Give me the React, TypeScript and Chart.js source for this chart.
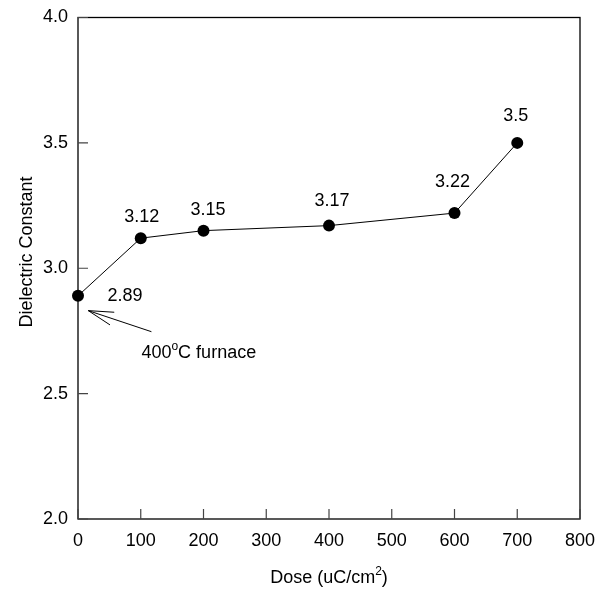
import React, { useEffect, useRef } from 'react';
import { Chart, registerables } from 'chart.js';

Chart.register(...registerables);

// ---- data ----
const doses = [0, 100, 200, 400, 600, 700];
const dielectric = [2.89, 3.12, 3.15, 3.17, 3.22, 3.5];
const pointLabels = ['2.89', '3.12', '3.15', '3.17', '3.22', '3.5'];
const xTicks = [0, 100, 200, 300, 400, 500, 600, 700, 800];
const yTicks = [2.0, 2.5, 3.0, 3.5, 4.0];
const xTitle = 'Dose (uC/cm';
const xTitleSup = '2';
const yTitle = 'Dielectric Constant';
const noteMain = '400';
const noteSup = 'o';
const noteRest = 'C furnace';
// arrow in data units: tail -> head
const arrowTail = { x: 117, y: 2.747 };
const arrowHead = { x: 16.4, y: 2.831 };

// ---- style ----
const FONT = '"Liberation Sans", Arial, Helvetica, sans-serif';
const labelOffsets: [number, number][] = [
  [47, 0],
  [1, -21.5],
  [4.5, -21],
  [3, -25],
  [-2, -31.5],
  [-1.5, -26.4],
];

const decorPlugin = {
  id: 'decor',
  afterDraw(chart: any) {
    const ctx = chart.ctx as CanvasRenderingContext2D;
    const { left, right, top, bottom } = chart.chartArea;
    const xs = chart.scales.x;
    const ys = chart.scales.y;
    ctx.save();
    // box
    ctx.strokeStyle = '#000';
    ctx.lineWidth = 1.3;
    ctx.strokeRect(left, top, right - left, bottom - top);
    // inner ticks
    ctx.strokeStyle = '#444';
    ctx.lineWidth = 1.2;
    ctx.beginPath();
    yTicks.forEach((v) => {
      const y = ys.getPixelForValue(v);
      ctx.moveTo(left, y);
      ctx.lineTo(left + 10, y);
    });
    xTicks.forEach((v) => {
      const x = xs.getPixelForValue(v);
      ctx.moveTo(x, bottom);
      ctx.lineTo(x, bottom - 10);
    });
    ctx.stroke();

    // point labels
    ctx.fillStyle = '#000';
    ctx.font = `18px ${FONT}`;
    ctx.textAlign = 'center';
    ctx.textBaseline = 'middle';
    doses.forEach((d, i) => {
      const x = xs.getPixelForValue(d) + labelOffsets[i][0];
      const y = ys.getPixelForValue(dielectric[i]) + labelOffsets[i][1];
      ctx.fillText(pointLabels[i], x, y);
    });

    // arrow
    const tx = xs.getPixelForValue(arrowTail.x);
    const ty = ys.getPixelForValue(arrowTail.y);
    const hx = xs.getPixelForValue(arrowHead.x);
    const hy = ys.getPixelForValue(arrowHead.y);
    const ang = Math.atan2(ty - hy, tx - hx);
    const len = 26;
    const spread = 0.26;
    ctx.strokeStyle = '#000';
    ctx.lineWidth = 1;
    ctx.beginPath();
    ctx.moveTo(tx, ty);
    ctx.lineTo(hx, hy);
    ctx.moveTo(hx + len * Math.cos(ang - spread), hy + len * Math.sin(ang - spread));
    ctx.lineTo(hx, hy);
    ctx.lineTo(hx + len * Math.cos(ang + spread), hy + len * Math.sin(ang + spread));
    ctx.stroke();

    // note text
    const nx = tx - 10;
    const ny = ty + 26;
    ctx.textAlign = 'left';
    ctx.textBaseline = 'alphabetic';
    ctx.font = `18px ${FONT}`;
    ctx.fillText(noteMain, nx, ny);
    let cx = nx + ctx.measureText(noteMain).width;
    ctx.font = `12px ${FONT}`;
    ctx.fillText(noteSup, cx, ny - 8);
    cx += ctx.measureText(noteSup).width;
    ctx.font = `18px ${FONT}`;
    ctx.fillText(noteRest, cx, ny);

    // x title
    ctx.font = `18px ${FONT}`;
    const w1 = ctx.measureText(xTitle).width;
    ctx.font = `12px ${FONT}`;
    const w2 = ctx.measureText(xTitleSup).width;
    ctx.font = `18px ${FONT}`;
    const w3 = ctx.measureText(')').width;
    const total = w1 + w2 + w3;
    const cxm = (left + right) / 2;
    let sx = cxm - total / 2;
    const by = 583;
    ctx.fillText(xTitle, sx, by);
    sx += w1;
    ctx.font = `12px ${FONT}`;
    ctx.fillText(xTitleSup, sx, by - 8);
    sx += w2;
    ctx.font = `18px ${FONT}`;
    ctx.fillText(')', sx, by);

    // y title
    ctx.save();
    ctx.translate(32, 252);
    ctx.rotate(-Math.PI / 2);
    ctx.textAlign = 'center';
    ctx.textBaseline = 'alphabetic';
    ctx.fillText(yTitle, 0, 0);
    ctx.restore();

    ctx.restore();
  },
};

export default function App() {
  const ref = useRef<HTMLCanvasElement | null>(null);
  useEffect(() => {
    document.body.style.margin = '0';
    const canvas = ref.current;
    if (!canvas) return;
    const chart = new Chart(canvas, {
      type: 'line',
      data: {
        datasets: [
          {
            data: doses.map((d, i) => ({ x: d, y: dielectric[i] })),
            borderColor: '#000',
            borderWidth: 1,
            pointRadius: 6,
            pointBackgroundColor: '#000',
            pointBorderColor: '#000',
            pointBorderWidth: 0,
            tension: 0,
            clip: false as any,
          },
        ],
      },
      options: {
        animation: false,
        responsive: false,
        maintainAspectRatio: false,
        devicePixelRatio: 1,
        layout: { padding: { top: 17.5, right: 18, left: 0, bottom: 0 } },
        plugins: { legend: { display: false }, tooltip: { enabled: false } },
        scales: {
          x: {
            type: 'linear',
            min: 0,
            max: 800,
            afterBuildTicks: (s: any) => {
              s.ticks = xTicks.map((v) => ({ value: v }));
            },
            afterFit: (s: any) => {
              s.height = 70;
              s.paddingLeft = 0;
              s.paddingRight = 0;
            },
            grid: { display: false, drawTicks: false },
            border: { display: false },
            ticks: {
              color: '#000',
              font: { family: FONT, size: 18 },
              padding: 11,
              maxRotation: 0,
              autoSkip: false,
            },
          },
          y: {
            type: 'linear',
            min: 2,
            max: 4,
            afterBuildTicks: (s: any) => {
              s.ticks = yTicks.map((v) => ({ value: v }));
            },
            afterFit: (s: any) => {
              s.width = 78;
              s.paddingTop = 0;
              s.paddingBottom = 0;
            },
            grid: { display: false, drawTicks: false },
            border: { display: false },
            ticks: {
              color: '#000',
              font: { family: FONT, size: 18 },
              padding: 10,
              autoSkip: false,
              callback: (v: any) => Number(v).toFixed(1),
            },
          },
        },
      },
      plugins: [decorPlugin],
    });
    return () => chart.destroy();
  }, []);
  return (
    <div style={{ position: 'absolute', left: 0, top: 0, width: 598, height: 589 }}>
      <canvas ref={ref} width={598} height={589} style={{ width: 598, height: 589 }} />
    </div>
  );
}
